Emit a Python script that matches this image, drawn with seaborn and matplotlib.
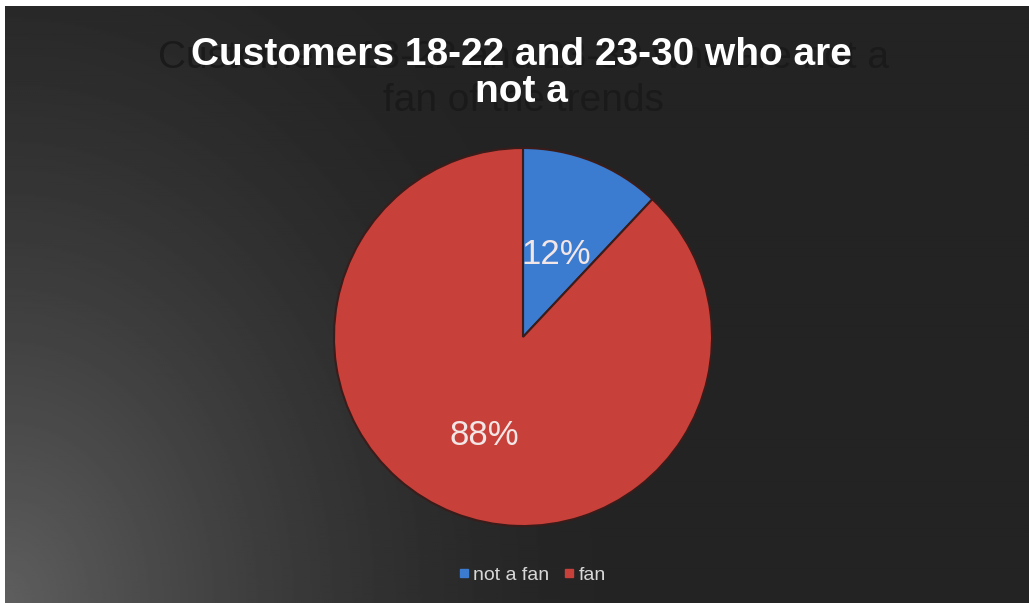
import numpy as np
import matplotlib
matplotlib.use("Agg")
import matplotlib.pyplot as plt
import seaborn as sns

# ---- data ----
categories = ["not a fan", "fan"]
shares = [12, 88]
pct_labels = ["12%", "88%"]
title_lines = ["Customers 18-22 and 23-30 who are", "not a"]
ghost_lines = ["Customers 18-22 and 23-30 who are not a", "fan of the trends"]

sns.set_theme(style="dark")
colors = ["#3b7bd0", "#c8403a"]
plt.rcParams["font.family"] = ["Liberation Sans", "DejaVu Sans"]

W, H = 1029, 603
fig = plt.figure(figsize=(W / 100, H / 100), dpi=100, facecolor="white")

# background panel with gradient (lighter toward bottom-left)
bg = fig.add_axes([5 / W, 0, 1 - 5 / W, 1 - 6 / H])
ny, nx = 300, 512
yy, xx = np.mgrid[0:ny, 0:nx]
d = np.hypot(xx / nx * 1024, (ny - 1 - yy) / ny * 597 * 0.8)
val = 0.14 + 0.23 * np.clip(1 - d / 600, 0, 1) ** 1.5
bg.imshow(val, cmap="gray", vmin=0, vmax=1, aspect="auto", origin="upper",
          extent=[0, 1, 0, 1])
bg.set_xlim(0, 1)
bg.set_ylim(0, 1)
bg.axis("off")

# ghost title (dark, behind)
fig.text(523 / W, 1 - 58 / H, ghost_lines[0], ha="center", va="center",
         fontsize=28, color="#1a1a1a", zorder=1)
fig.text(523 / W, 1 - 101 / H, ghost_lines[1], ha="center", va="center",
         fontsize=28, color="#1a1a1a", zorder=1)

# main title
fig.text(521 / W, 1 - 55 / H, title_lines[0], ha="center", va="center",
         fontsize=28, fontweight="bold", color="white", zorder=3)
fig.text(521 / W, 1 - 92 / H, title_lines[1], ha="center", va="center",
         fontsize=28, fontweight="bold", color="white", zorder=3)

# pie
cx, cy, r = 523, 337, 189
ax = fig.add_axes([(cx - r) / W, (H - cy - r) / H, 2 * r / W, 2 * r / H])
ax.set_facecolor("none")
wedges, _ = ax.pie(shares, colors=colors, startangle=90, counterclock=False,
                   radius=1.0,
                   wedgeprops=dict(edgecolor="#3a1c1a", linewidth=1.5))
ax.set_xlim(-1, 1)
ax.set_ylim(-1, 1)
ax.set_aspect("equal")
ax.axis("off")

dists = [0.47, 0.56]
for w, lab, dd in zip(wedges, pct_labels, dists):
    ang = np.deg2rad((w.theta1 + w.theta2) / 2)
    ax.text(dd * np.cos(ang), dd * np.sin(ang), lab, ha="center", va="center",
            fontsize=25, color="#f3e6e6")

# legend
handles = [plt.Line2D([], [], marker="s", linestyle="none", markersize=6,
                      markerfacecolor=c, markeredgecolor=c) for c in colors]
leg = fig.legend(handles, categories, loc="center", bbox_to_anchor=(531 / W, 1 - 575 / H),
                 ncol=2, frameon=False, fontsize=14, handletextpad=0.1,
                 columnspacing=0.6, handlelength=0.8)
for t in leg.get_texts():
    t.set_color("#d8d8d8")

fig.savefig("out.png", dpi=100, facecolor="white")
